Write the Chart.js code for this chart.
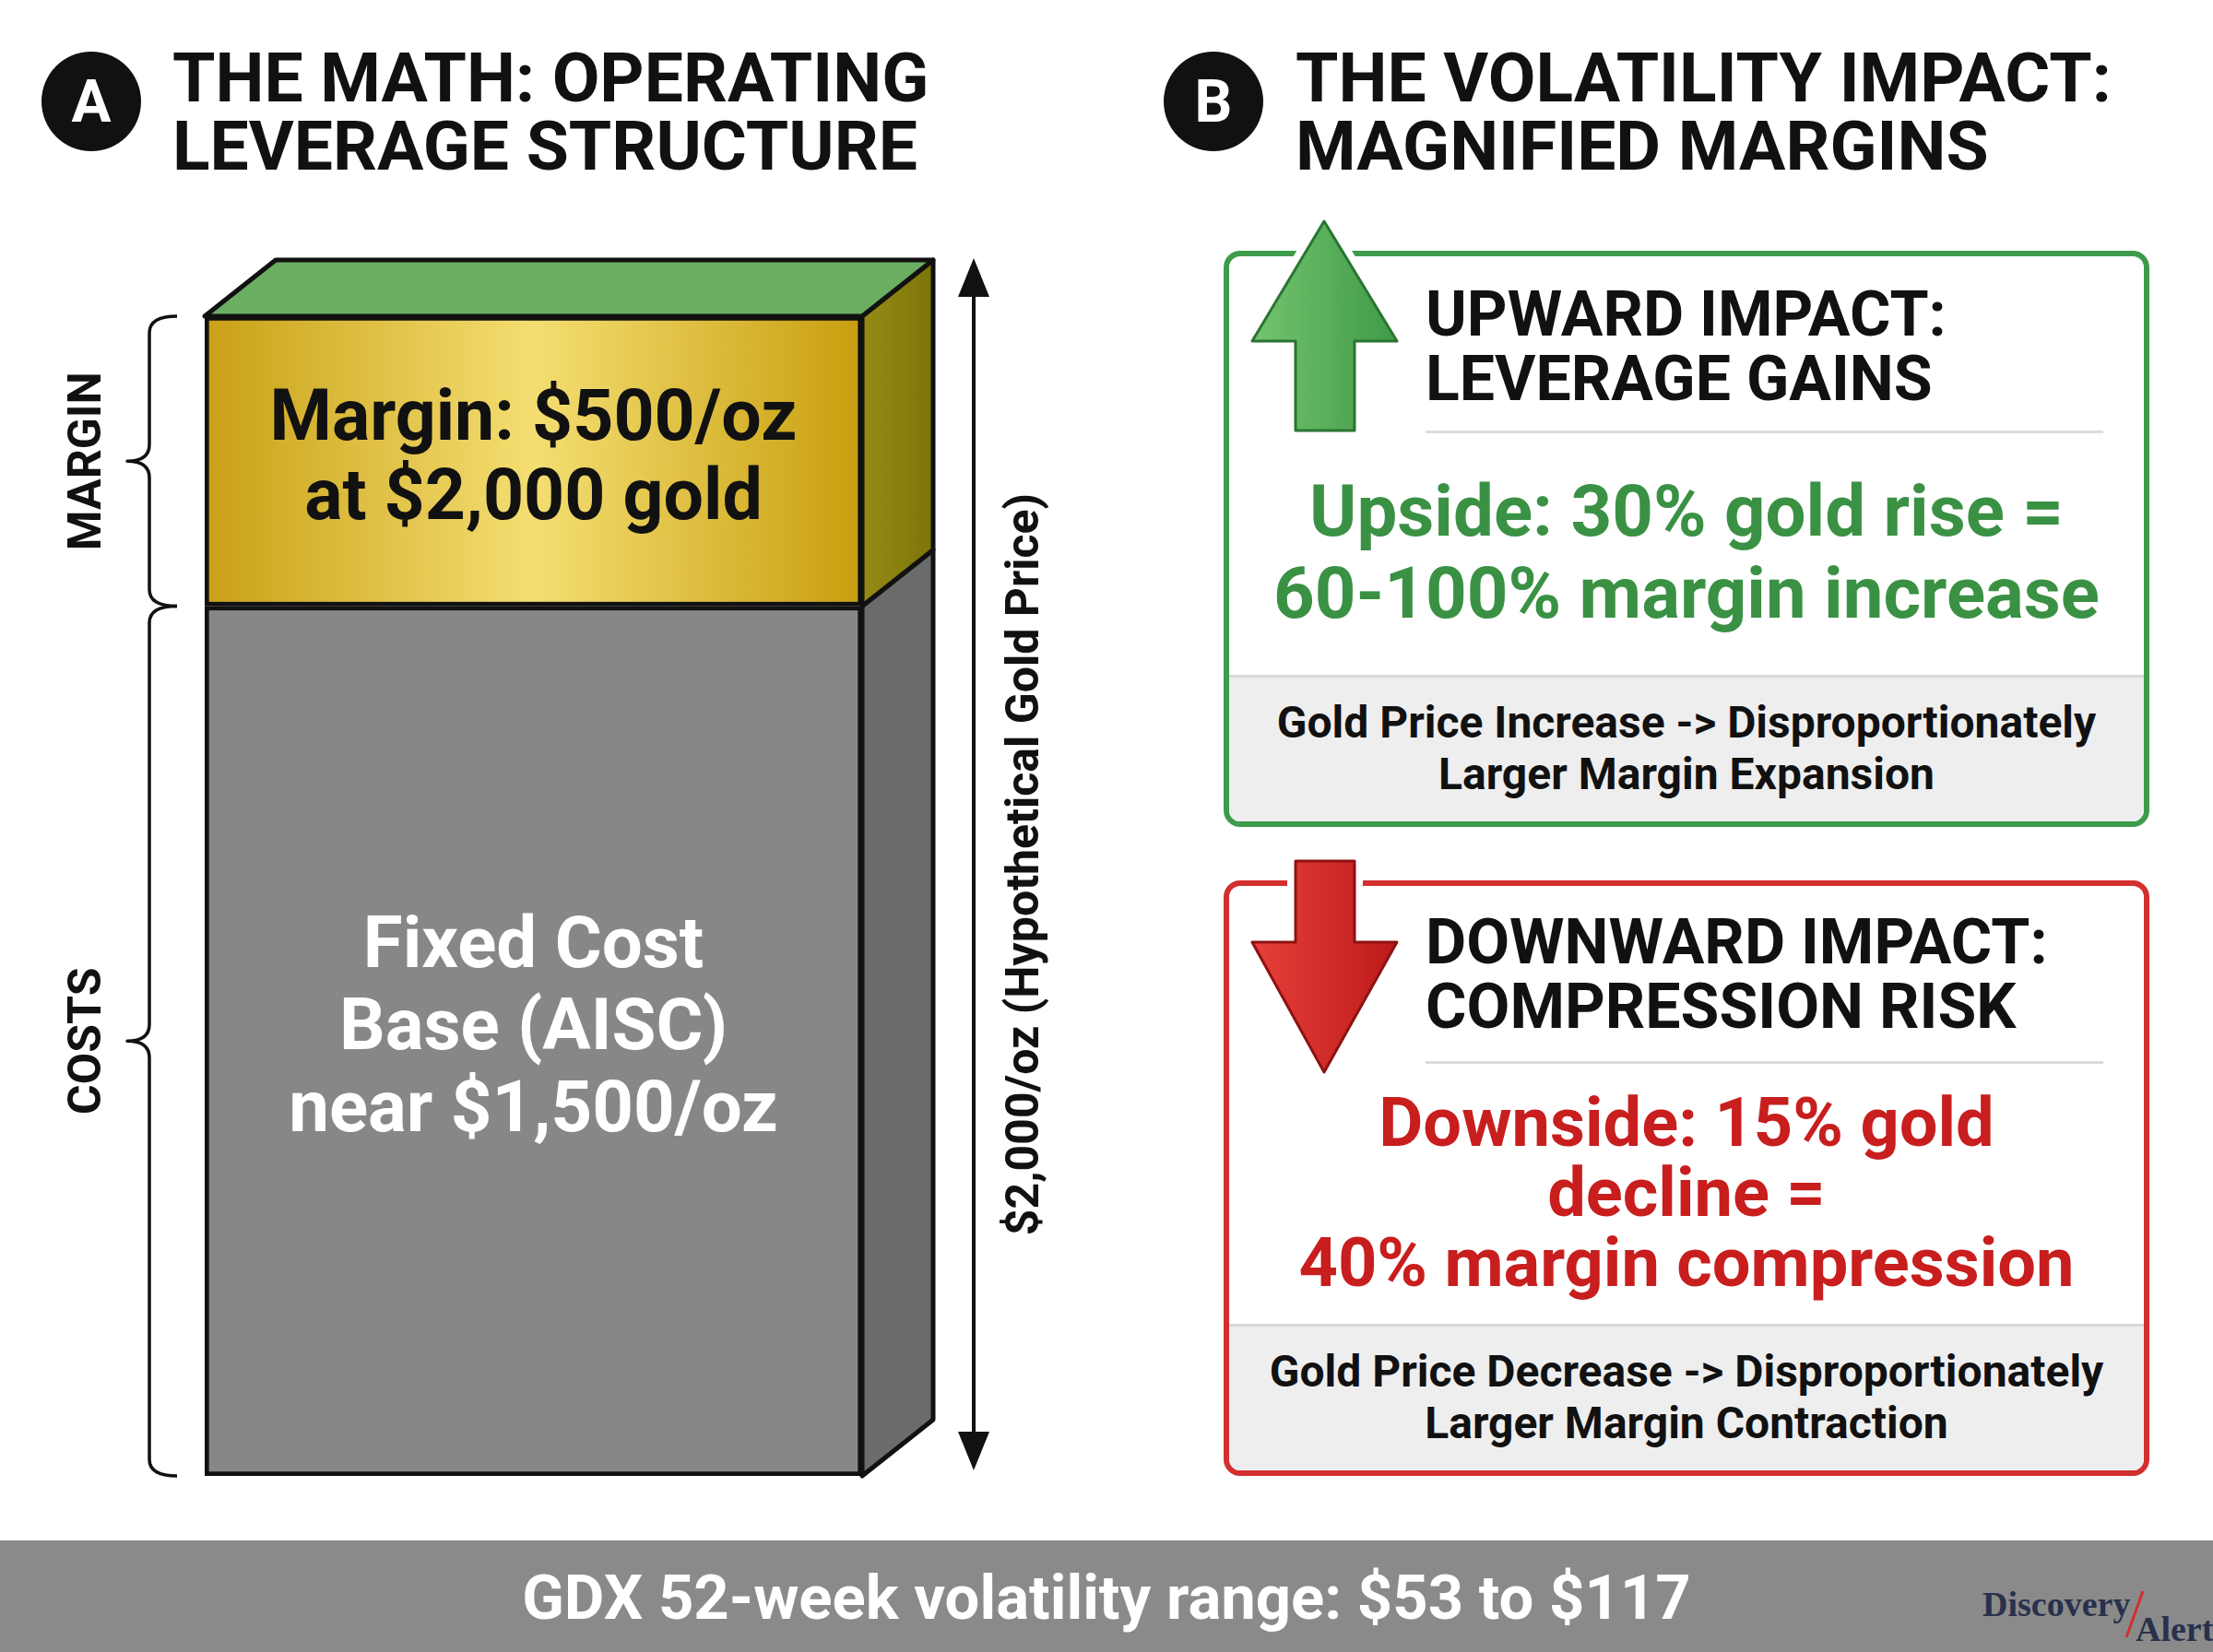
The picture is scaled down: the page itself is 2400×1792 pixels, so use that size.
<!DOCTYPE html>
<html lang="en">
<head>
<meta charset="UTF-8">
<title>Operating leverage</title>
<script src="https://cdn.jsdelivr.net/npm/chart.js@4.4.0/dist/chart.umd.min.js"></script>
<style>
  body { margin: 0; width: 2400px; height: 1792px; position: relative; overflow: hidden; background: #fff; font-family: Roboto, sans-serif; color: #111; }
  .badge { position: absolute; width: 108px; height: 108px; border-radius: 50%; background: #111; color: #fff; font: 700 64px Roboto; display: flex; align-items: center; justify-content: center; }
  .title { position: absolute; font: 700 75px/74px Roboto; white-space: nowrap; }
  .box { position: absolute; left: 1327px; width: 1004px; box-sizing: border-box; border: 6px solid; border-radius: 18px; background: #fff; overflow: hidden; }
  .head { position: absolute; left: 213px; font: 700 68px/70px Roboto; white-space: nowrap; }
  .sep { position: absolute; left: 213px; width: 735px; height: 3px; background: #dcdcdc; }
  .big { position: absolute; left: 0; right: 0; text-align: center; font-weight: 700; white-space: nowrap; }
  .foot { position: absolute; left: 0; right: 0; bottom: 0; height: 159px; box-sizing: border-box; padding-top: 21px; background: #eeeeee; border-top: 3px solid #d8d8d8; text-align: center; font: 700 48px/56px Roboto; white-space: nowrap; }
  .banner { position: absolute; left: 0; top: 1671px; width: 2400px; height: 121px; background: #8a8a8a; color: #fff; text-align: center; font: 700 67px/124px Roboto; }
  .logo { position: absolute; font: 600 38px 'Liberation Serif', serif; color: #28314c; white-space: nowrap; }
</style>
</head>
<body>
<canvas id="chart" width="2400" height="1792" style="position:absolute;left:0;top:0"></canvas>

<div class="badge" style="left:45px;top:56px">A</div>
<div class="title" style="left:187px;top:47px">THE MATH: OPERATING<br>LEVERAGE STRUCTURE</div>
<div class="badge" style="left:1262px;top:56px">B</div>
<div class="title" style="left:1405px;top:47px">THE VOLATILITY IMPACT:<br>MAGNIFIED MARGINS</div>

<div class="box" style="top:272px;height:625px;border-color:#3d9b4a">
  <div class="head" style="top:28px">UPWARD IMPACT:<br>LEVERAGE GAINS</div>
  <div class="sep" style="top:189px"></div>
  <div class="big" style="top:232px;font-size:78px;line-height:89px;color:#3a9144">Upside: 30% gold rise =<br>60-100% margin increase</div>
  <div class="foot">Gold Price Increase -&gt; Disproportionately<br>Larger Margin Expansion</div>
</div>

<div class="box" style="top:955px;height:646px;border-color:#d32f2f">
  <div class="head" style="top:26px">DOWNWARD IMPACT:<br>COMPRESSION RISK</div>
  <div class="sep" style="top:190px"></div>
  <div class="big" style="top:219px;font-size:74px;line-height:76px;color:#c81e1e">Downside: 15% gold<br>decline =<br>40% margin compression</div>
  <div class="foot">Gold Price Decrease -&gt; Disproportionately<br>Larger Margin Contraction</div>
</div>

<svg width="2400" height="1792" style="position:absolute;left:0;top:0;pointer-events:none">
  <defs>
    <linearGradient id="gUp" x1="0" y1="0" x2="1" y2="0">
      <stop offset="0" stop-color="#74c46f"/><stop offset="1" stop-color="#3f9a47"/>
    </linearGradient>
    <linearGradient id="gDown" x1="0" y1="0" x2="1" y2="0">
      <stop offset="0" stop-color="#e8403a"/><stop offset="1" stop-color="#bb1a1a"/>
    </linearGradient>
  </defs>
  <polygon points="1436,240 1515,370 1469,370 1469,467 1405,467 1405,370 1358,370" fill="#fff" stroke="#fff" stroke-width="18" stroke-linejoin="round"/>
  <polygon points="1436,240 1515,370 1469,370 1469,467 1405,467 1405,370 1358,370" fill="url(#gUp)" stroke="#2a7432" stroke-width="3" stroke-linejoin="round"/>
  <polygon points="1405,934 1469,934 1469,1022 1515,1022 1436,1163 1358,1022 1405,1022" fill="#fff" stroke="#fff" stroke-width="18" stroke-linejoin="round"/>
  <polygon points="1405,934 1469,934 1469,1022 1515,1022 1436,1163 1358,1022 1405,1022" fill="url(#gDown)" stroke="#8e1212" stroke-width="3" stroke-linejoin="round"/>
</svg>

<div class="banner">GDX 52-week volatility range: $53 to $117</div>
<div class="logo" style="left:2150px;top:1718px">Discovery</div>
<div class="logo" style="left:2316px;top:1745px">Alert</div>
<svg width="40" height="60" style="position:absolute;left:2296px;top:1722px"><line x1="28" y1="4" x2="10" y2="54" stroke="#d32f2f" stroke-width="3"/></svg>

<script>
const categories = ['Gold at $2,000/oz'];
const costValues = [1500];
const marginValues = [500];
const goldPrice = 2000;
const marginLines = ['Margin: $500/oz', 'at $2,000 gold'];
const costLines = ['Fixed Cost', 'Base (AISC)', 'near $1,500/oz'];
const braceLabels = ['COSTS', 'MARGIN'];
const axisLabel = '$2,000/oz (Hypothetical Gold Price)';

const DX = 77, DY = -61;

function poly(ctx, pts, fill) {
  ctx.beginPath();
  ctx.moveTo(pts[0][0], pts[0][1]);
  for (let i = 1; i < pts.length; i++) ctx.lineTo(pts[i][0], pts[i][1]);
  ctx.closePath();
  ctx.fillStyle = fill;
  ctx.fill();
  ctx.lineWidth = 5;
  ctx.strokeStyle = '#111';
  ctx.lineJoin = 'round';
  ctx.stroke();
}

function brace(ctx, x, y1, y2) {
  const ym = (y1 + y2) / 2, r = 18, arm = 30, tip = 24;
  ctx.beginPath();
  ctx.moveTo(x + arm, y1);
  ctx.quadraticCurveTo(x, y1, x, y1 + r);
  ctx.lineTo(x, ym - r);
  ctx.quadraticCurveTo(x, ym, x - tip, ym);
  ctx.quadraticCurveTo(x, ym, x, ym + r);
  ctx.lineTo(x, y2 - r);
  ctx.quadraticCurveTo(x, y2, x + arm, y2);
  ctx.stroke();
}

function vtext(ctx, text, x, y, font) {
  ctx.save();
  ctx.translate(x, y);
  ctx.rotate(-Math.PI / 2);
  ctx.font = font;
  ctx.textAlign = 'center';
  ctx.textBaseline = 'middle';
  ctx.fillText(text, 0, 0);
  ctx.restore();
}

const depthPlugin = {
  id: 'depth',
  afterDatasetsDraw(chart) {
    const ctx = chart.ctx;
    const c = chart.getDatasetMeta(0).data[0];
    const m = chart.getDatasetMeta(1).data[0];
    const L = m.x - m.width / 2, R = m.x + m.width / 2;
    const top = m.y, mid = m.base, bot = c.base;
    ctx.save();

    // side + top faces
    poly(ctx, [[R, mid], [R + DX, mid + DY], [R + DX, bot + DY], [R, bot]], '#6b6b6b');
    const sg = ctx.createLinearGradient(R, 0, R + DX, 0);
    sg.addColorStop(0, '#958b16');
    sg.addColorStop(1, '#7c7508');
    poly(ctx, [[R, top], [R + DX, top + DY], [R + DX, mid + DY], [R, mid]], sg);
    poly(ctx, [[L, top], [L + DX, top + DY], [R + DX, top + DY], [R, top]], '#6aae62');

    // labels inside the bar
    ctx.textAlign = 'center';
    ctx.textBaseline = 'middle';
    ctx.font = '700 77px Roboto';
    ctx.fillStyle = '#111';
    const mc = (top + mid) / 2;
    marginLines.forEach((t, i) => ctx.fillText(t, m.x, mc - 43 + i * 86));
    ctx.fillStyle = '#fff';
    ctx.font = '700 78px Roboto';
    const cc = (mid + bot) / 2 - 11;
    costLines.forEach((t, i) => ctx.fillText(t, c.x, cc + (i - 1) * 89));

    // braces on the left
    ctx.strokeStyle = '#111';
    ctx.lineWidth = 3.5;
    ctx.lineJoin = 'round';
    brace(ctx, 162, top, mid);
    brace(ctx, 162, mid, bot);
    ctx.fillStyle = '#111';
    vtext(ctx, braceLabels[1], 96, (top + mid) / 2, '700 50px Roboto');
    vtext(ctx, braceLabels[0], 96, (mid + bot) / 2, '700 50px Roboto');

    // double arrow for the full gold price
    const ax = R + DX + 44, ay1 = top + DY - 2, ay2 = bot - 6;
    ctx.lineWidth = 4;
    ctx.beginPath();
    ctx.moveTo(ax, ay1 + 30);
    ctx.lineTo(ax, ay2 - 30);
    ctx.stroke();
    ctx.beginPath();
    ctx.moveTo(ax, ay1); ctx.lineTo(ax + 17, ay1 + 42); ctx.lineTo(ax - 17, ay1 + 42); ctx.closePath();
    ctx.fill();
    ctx.beginPath();
    ctx.moveTo(ax, ay2); ctx.lineTo(ax + 17, ay2 - 42); ctx.lineTo(ax - 17, ay2 - 42); ctx.closePath();
    ctx.fill();
    vtext(ctx, axisLabel, ax + 57, (ay1 + ay2) / 2, '700 50px Roboto');

    ctx.restore();
  }
};

new Chart(document.getElementById('chart'), {
  type: 'bar',
  data: {
    labels: categories,
    datasets: [
      {
        label: 'Costs',
        data: costValues,
        backgroundColor: '#878787',
        borderColor: '#111',
        borderWidth: 5,
        borderSkipped: false
      },
      {
        label: 'Margin',
        data: marginValues,
        backgroundColor: (context) => {
          const ca = context.chart.chartArea;
          if (!ca) return '#e2c23e';
          const g = context.chart.ctx.createLinearGradient(ca.left, 0, ca.right, 0);
          g.addColorStop(0, '#c9a015');
          g.addColorStop(0.5, '#f4de72');
          g.addColorStop(1, '#c89e0e');
          return g;
        },
        borderColor: '#111',
        borderWidth: 5,
        borderSkipped: false
      }
    ]
  },
  options: {
    responsive: false,
    animation: false,
    devicePixelRatio: 1,
    layout: { padding: { left: 222, right: 1465, top: 343, bottom: 191 } },
    datasets: { bar: { categoryPercentage: 1, barPercentage: 1 } },
    scales: {
      x: { stacked: true, display: false },
      y: { stacked: true, display: false, min: 0, max: goldPrice }
    },
    plugins: { legend: { display: false }, tooltip: { enabled: false } }
  },
  plugins: [depthPlugin]
});
</script>
</body>
</html>
